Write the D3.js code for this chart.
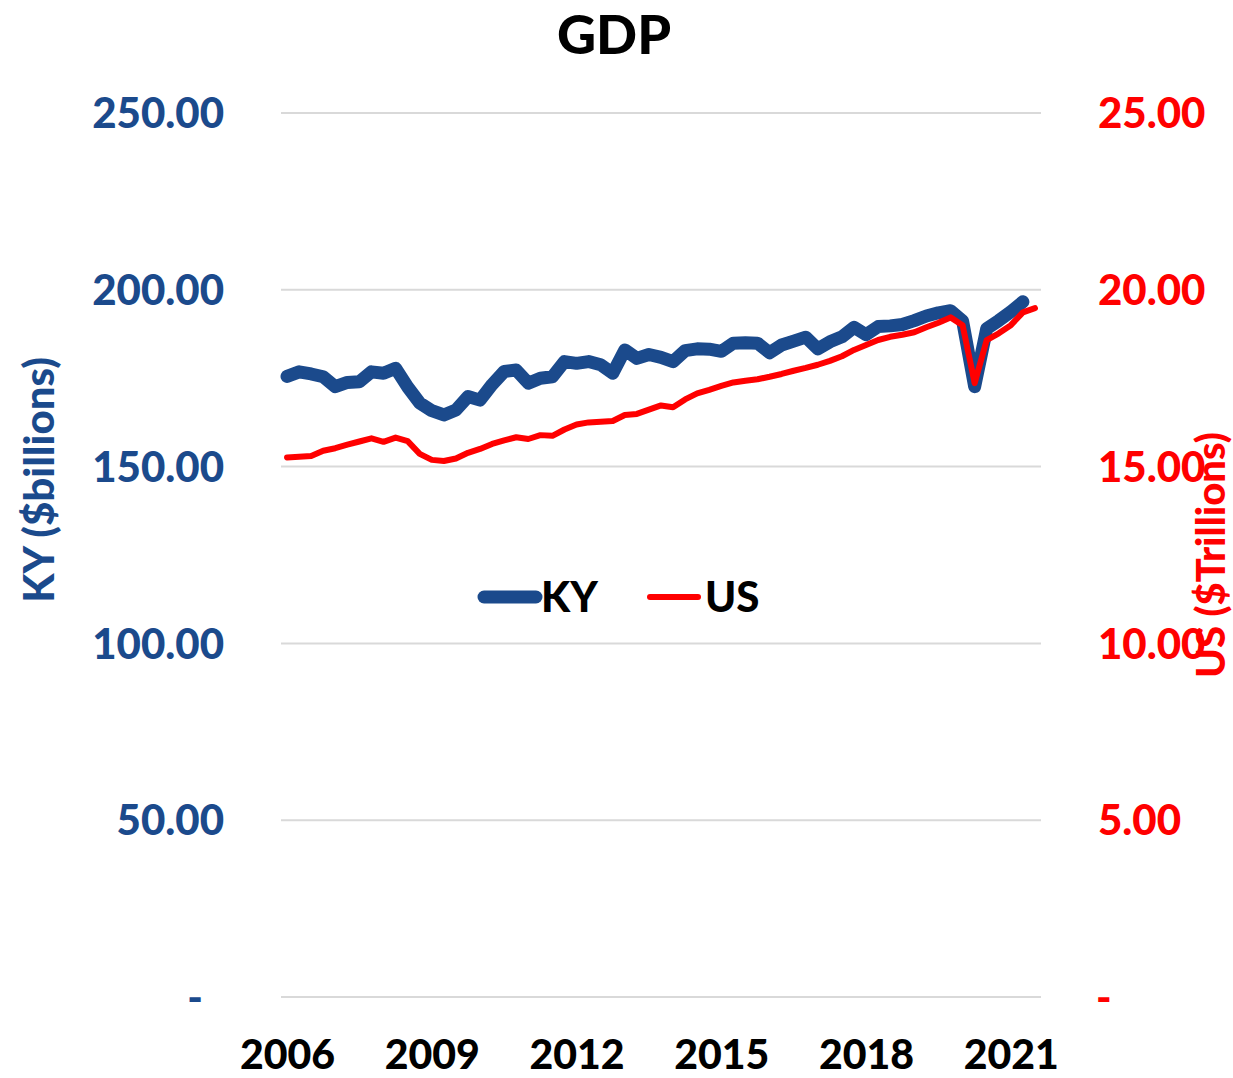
<!DOCTYPE html>
<html>
<head>
<meta charset="utf-8">
<script src="https://cdn.jsdelivr.net/npm/d3@7"></script>
<style>
  body { margin: 0; background: #fff; }
  text { font-family: Lato, "Open Sans", sans-serif; font-weight: 900; }
</style>
</head>
<body>
<svg id="chart" width="1233" height="1078"></svg>
<script>
const width = 1233
const height = 1078
const margin = { top: 113, right: 192, bottom: 81, left: 281 }

// quarters 2006Q1 .. 2021Q3
const quarters = d3.range(63).map(i => `${2006 + Math.floor(i / 4)}Q${i % 4 + 1}`)
const yearLabels = ["2006", "2009", "2012", "2015", "2018", "2021"]

// KY GDP, $billions (2006Q1 .. 2021Q2)
const kyValues = [
    175.5, 176.8, 176.2, 175.4, 172.6, 173.8, 174.0, 176.8, 176.4, 177.8,
    172.5, 168.0, 165.8, 164.6, 166.0, 169.8, 168.8, 173.2, 176.9, 177.3,
    173.6, 175.0, 175.4, 179.7, 179.2, 179.7, 178.8, 176.4, 183.0, 180.6,
    181.7, 180.9, 179.7, 182.8, 183.3, 183.2, 182.6, 184.9, 185.0, 184.9,
    182.2, 184.4, 185.5, 186.6, 183.3, 185.3, 186.7, 189.4, 187.3, 189.6,
    189.8, 190.2, 191.3, 192.6, 193.5, 194.1, 191.2, 172.6, 189.0, 191.3,
    193.8, 196.6
]

// US GDP, $trillions (2006Q1 .. 2021Q3)
const usValues = [
    15.26, 15.28, 15.30, 15.45, 15.52, 15.62, 15.71, 15.80, 15.70, 15.82,
    15.72, 15.36, 15.19, 15.16, 15.23, 15.39, 15.50, 15.64, 15.74, 15.83,
    15.78, 15.89, 15.87, 16.05, 16.19, 16.25, 16.27, 16.29, 16.46, 16.49,
    16.61, 16.73, 16.68, 16.90, 17.07, 17.17, 17.28, 17.38, 17.43, 17.47,
    17.54, 17.62, 17.71, 17.79, 17.88, 17.99, 18.12, 18.30, 18.44, 18.58,
    18.67, 18.73, 18.80, 18.94, 19.07, 19.22, 19.00, 17.36, 18.58, 18.77,
    19.00, 19.36, 19.48
]

const leftTicks = [0, 50, 100, 150, 200, 250]
const rightTicks = [0, 5, 10, 15, 20, 25]

const kyColor = "#1b4a8c"
const usColor = "#ff0000"

const svg = d3.select("#chart")

const x = d3.scaleLinear()
    .domain([-0.5, quarters.length - 0.5])
    .range([margin.left, width - margin.right])

const yLeft = d3.scaleLinear()
    .domain([0, 250])
    .range([height - margin.bottom, margin.top])

const yRight = d3.scaleLinear()
    .domain([0, 25])
    .range([height - margin.bottom, margin.top])

// gridlines
svg.append("g")
    .attr("class", "grid")
    .selectAll("line")
    .data(leftTicks)
    .join("line")
    .attr("x1", margin.left)
    .attr("x2", width - margin.right)
    .attr("y1", d => yLeft(d))
    .attr("y2", d => yLeft(d))
    .attr("stroke", "#d9d9d9")
    .attr("stroke-width", 2)

// left axis
const leftAxis = svg.append("g")
    .attr("transform", `translate(${margin.left - 57},0)`)
    .call(d3.axisLeft(yLeft).tickValues(leftTicks).tickSize(0)
        .tickFormat(d => d === 0 ? "-" : d3.format(".2f")(d)))
leftAxis.select(".domain").remove()
leftAxis.selectAll("text")
    .attr("x", 0)
    .attr("dx", d => d === 0 ? -21 : 0)
    .attr("dy", "0.35em")
    .attr("fill", kyColor)
    .style("font-size", "42px")

// right axis
const rightAxis = svg.append("g")
    .attr("transform", `translate(${width - margin.right + 57},0)`)
    .call(d3.axisRight(yRight).tickValues(rightTicks).tickSize(0)
        .tickFormat(d => d === 0 ? "-" : d3.format(".2f")(d)))
rightAxis.select(".domain").remove()
rightAxis.selectAll("text")
    .attr("x", 0)
    .attr("dx", d => d === 0 ? -2 : 0)
    .attr("dy", "0.35em")
    .attr("fill", usColor)
    .style("font-size", "42px")

// x axis, a label every 3 years
const xAxis = svg.append("g")
    .attr("transform", `translate(0,${height - margin.bottom})`)
    .call(d3.axisBottom(x)
        .tickValues(yearLabels.map(y => quarters.indexOf(y + "Q1")))
        .tickSize(0)
        .tickFormat(i => quarters[i].slice(0, 4)))
xAxis.select(".domain").remove()
xAxis.selectAll("text")
    .attr("y", 0)
    .attr("dy", 72)
    .attr("fill", "#000")
    .style("font-size", "41px")

// lines
const kyLine = d3.line()
    .x((d, i) => x(i))
    .y(d => yLeft(d))

const usLine = d3.line()
    .x((d, i) => x(i))
    .y(d => yRight(d))

svg.append("path")
    .datum(kyValues)
    .attr("d", kyLine)
    .attr("fill", "none")
    .attr("stroke", kyColor)
    .attr("stroke-width", 13)
    .attr("stroke-linejoin", "round")
    .attr("stroke-linecap", "round")

svg.append("path")
    .datum(usValues)
    .attr("d", usLine)
    .attr("fill", "none")
    .attr("stroke", usColor)
    .attr("stroke-width", 6)
    .attr("stroke-linejoin", "round")
    .attr("stroke-linecap", "round")

// title
svg.append("text")
    .attr("x", 614)
    .attr("y", 54)
    .attr("text-anchor", "middle")
    .style("font-size", "54px")
    .text("GDP")

// axis titles
svg.append("text")
    .attr("transform", "translate(54,480) rotate(-90)")
    .attr("text-anchor", "middle")
    .attr("fill", kyColor)
    .style("font-size", "42px")
    .text("KY ($billions)")

svg.append("text")
    .attr("transform", "translate(1225,555) rotate(-90)")
    .attr("text-anchor", "middle")
    .attr("fill", usColor)
    .style("font-size", "40px")
    .text("US ($Trillions)")

// legend
const legend = svg.append("g").attr("class", "legend")
const legendItems = [
    { name: "KY", color: kyColor, w: 13, x1: 484, x2: 536, tx: 541 },
    { name: "US", color: usColor, w: 6, x1: 650, x2: 698, tx: 705 }
]
legend.selectAll("line")
    .data(legendItems)
    .join("line")
    .attr("x1", d => d.x1)
    .attr("x2", d => d.x2)
    .attr("y1", 597)
    .attr("y2", 597)
    .attr("stroke", d => d.color)
    .attr("stroke-width", d => d.w)
    .attr("stroke-linecap", "round")
legend.selectAll("text")
    .data(legendItems)
    .join("text")
    .attr("x", d => d.tx)
    .attr("y", 612)
    .style("font-size", "42px")
    .text(d => d.name)
</script>
</body>
</html>
